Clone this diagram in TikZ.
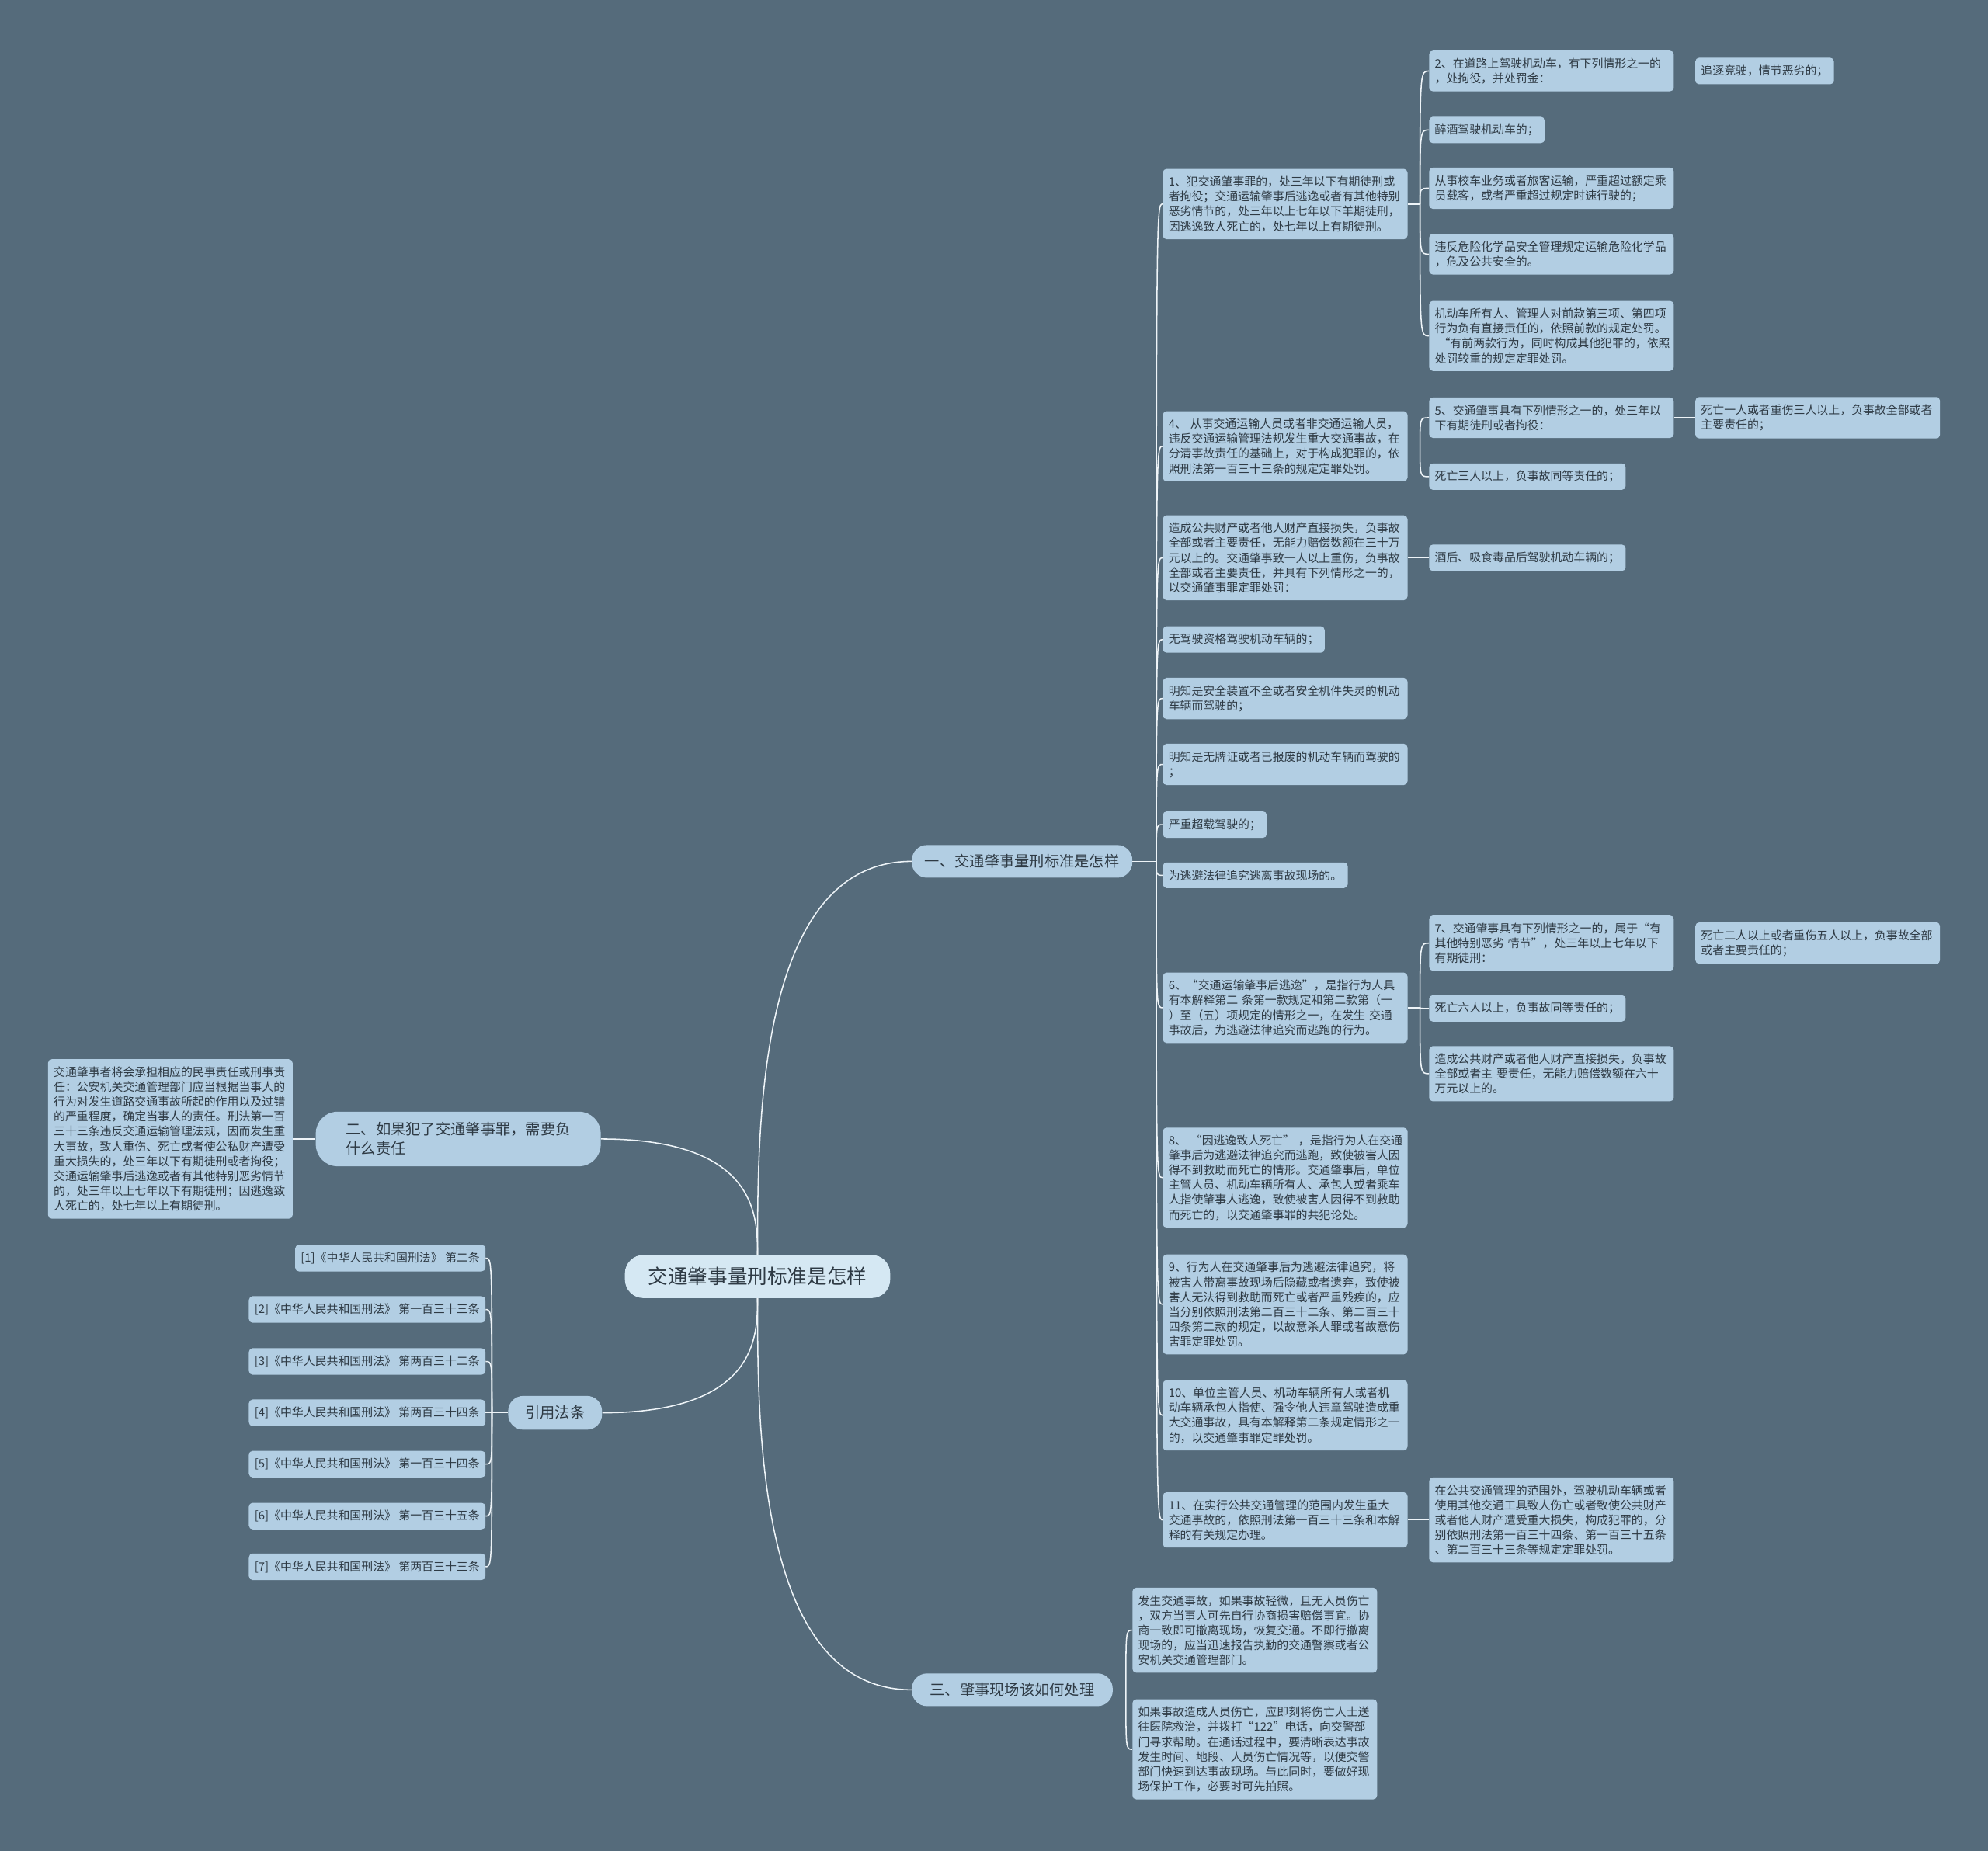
\documentclass[tikz,border=0pt]{standalone}
\usepackage{fontspec}
\setmainfont{Noto Sans CJK SC}
\usetikzlibrary{calc}
\setlength{\parindent}{0pt}

\definecolor{bgcol}{HTML}{556B7B}
\definecolor{boxcol}{HTML}{B2CEE3}
\definecolor{rootcol}{HTML}{D5E8F3}
\definecolor{inkcol}{HTML}{2E3A44}
\definecolor{linkcol}{HTML}{EEF4F8}

\tikzset{
  leaf/.style={fill=boxcol, text=inkcol, rounded corners=3.5pt, inner xsep=5.2pt, inner ysep=6.8pt,
    font=\fontsize{10.6}{13.6}\selectfont, align=left},
  leafw/.style={leaf, text width=213.7pt},
  topic/.style={fill=boxcol, text=inkcol, rounded corners=14pt, inner sep=0pt,
    font=\fontsize{13.7}{17.8}\selectfont, align=left},
  link/.style={draw=linkcol, line width=1.1pt},
  branch/.style={to path={.. controls ($(\tikztostart)!0.33!(\tikztostart|-\tikztotarget)$)
    and (\tikztostart|-\tikztotarget) .. (\tikztotarget)}},
  twig/.style={to path={.. controls (\tikztostart|-\tikztotarget) .. (\tikztotarget)}}
}

\begin{document}
\begin{tikzpicture}[x=0.40816mm, y=-0.40816mm]
    % canvas
        \fill[bgcol] (0,0) rectangle (1568,1460);
        \useasboundingbox (0,0) rectangle (1568,1460);
    % root and topics
        \node[topic, fill=rootcol, rounded corners=17pt, minimum width=243pt, minimum height=39.5pt,
            font=\fontsize{18.2}{22}\selectfont] (root) at (597.5,1007) {交通肇事量刑标准是怎样};
        \node[topic, anchor=west, minimum width=202pt, minimum height=30pt] (t1) at (719,679.5) {一、交通肇事量刑标准是怎样};
        \node[topic, anchor=east, minimum width=261pt, minimum height=50pt, rounded corners=20pt] (t2) at (474,898.5)
            {二、如果犯了交通肇事罪，需要负\\什么责任};
        \node[topic, anchor=west, minimum width=184pt, minimum height=30pt] (t3) at (719,1333) {三、肇事现场该如何处理};
        \node[topic, anchor=east, minimum width=86pt, minimum height=31pt] (t4) at (475,1114.5) {引用法条};
    % first topic, first column
        \node[leafw, anchor=west] (a1) at (917,161) {1、犯交通肇事罪的，处三年以下有期徒刑或\\者拘役；交通运输肇事后逃逸或者有其他特别\\恶劣情节的，处三年以上七年以下羊期徒刑，\\因逃逸致人死亡的，处七年以上有期徒刑。};
        \node[leafw, anchor=west] (a2) at (917,352) {4、 从事交通运输人员或者非交通运输人员，\\违反交通运输管理法规发生重大交通事故，在\\分清事故责任的基础上，对于构成犯罪的，依\\照刑法第一百三十三条的规定定罪处罚。};
        \node[leafw, anchor=west] (a3) at (917,440) {造成公共财产或者他人财产直接损失，负事故\\全部或者主要责任，无能力赔偿数额在三十万\\元以上的。交通肇事致一人以上重伤，负事故\\全部或者主要责任，并具有下列情形之一的，\\以交通肇事罪定罪处罚：};
        \node[leaf, anchor=west] (a4) at (917,504.5) {无驾驶资格驾驶机动车辆的；};
        \node[leafw, anchor=west] (a5) at (917,551) {明知是安全装置不全或者安全机件失灵的机动\\车辆而驾驶的；};
        \node[leafw, anchor=west] (a6) at (917,603) {明知是无牌证或者已报废的机动车辆而驾驶的\\；};
        \node[leaf, anchor=west] (a7) at (917,650.5) {严重超载驾驶的；};
        \node[leaf, anchor=west] (a8) at (917,690.5) {为逃避法律追究逃离事故现场的。};
        \node[leafw, anchor=west] (a9) at (917,795) {6、“交通运输肇事后逃逸”，是指行为人具\\有本解释第二~条第一款规定和第二款第（一\\）至（五）项规定的情形之一，在发生~交通\\事故后，为逃避法律追究而逃跑的行为。};
        \node[leafw, anchor=west] (a10) at (917,929) {8、~“因逃逸致人死亡”~，是指行为人在交通\\肇事后为逃避法律追究而逃跑，致使被害人因\\得不到救助而死亡的情形。交通肇事后，单位\\主管人员、机动车辆所有人、承包人或者乘车\\人指使肇事人逃逸，致使被害人因得不到救助\\而死亡的，以交通肇事罪的共犯论处。};
        \node[leafw, anchor=west] (a11) at (917,1029) {9、行为人在交通肇事后为逃避法律追究，将\\被害人带离事故现场后隐藏或者遗弃，致使被\\害人无法得到救助而死亡或者严重残疾的，应\\当分别依照刑法第二百三十二条、第二百三十\\四条第二款的规定，以故意杀人罪或者故意伤\\害罪定罪处罚。};
        \node[leafw, anchor=west] (a12) at (917,1116.5) {10、单位主管人员、机动车辆所有人或者机\\动车辆承包人指使、强令他人违章驾驶造成重\\大交通事故，具有本解释第二条规定情形之一\\的，以交通肇事罪定罪处罚。};
        \node[leafw, anchor=west] (a13) at (917,1199) {11、在实行公共交通管理的范围内发生重大\\交通事故的，依照刑法第一百三十三条和本解\\释的有关规定办理。};
    % first topic, second column
        \node[leafw, anchor=west] (b1) at (1127,56) {2、在道路上驾驶机动车，有下列情形之一的\\，处拘役，并处罚金：};
        \node[leaf, anchor=west] (b2) at (1127,102.5) {醉酒驾驶机动车的；};
        \node[leafw, anchor=west] (b3) at (1127,148.5) {从事校车业务或者旅客运输，严重超过额定乘\\员载客，或者严重超过规定时速行驶的；};
        \node[leafw, anchor=west] (b4) at (1127,200.5) {违反危险化学品安全管理规定运输危险化学品\\，危及公共安全的。};
        \node[leafw, anchor=west] (b5) at (1127,265) {机动车所有人、管理人对前款第三项、第四项\\行为负有直接责任的，依照前款的规定处罚。\\~“有前两款行为，同时构成其他犯罪的，依照\\处罚较重的规定定罪处罚。};
        \node[leafw, anchor=west] (b6) at (1127,329.5) {5、交通肇事具有下列情形之一的，处三年以\\下有期徒刑或者拘役：};
        \node[leaf, anchor=west] (b7) at (1127,376) {死亡三人以上，负事故同等责任的；};
        \node[leaf, anchor=west] (b8) at (1127,440) {酒后、吸食毒品后驾驶机动车辆的；};
        \node[leafw, anchor=west] (b9) at (1127,744) {7、交通肇事具有下列情形之一的，属于“有\\其他特别恶劣~情节”，处三年以上七年以下\\有期徒刑：};
        \node[leaf, anchor=west] (b10) at (1127,795.5) {死亡六人以上，负事故同等责任的；};
        \node[leafw, anchor=west] (b11) at (1127,847) {造成公共财产或者他人财产直接损失，负事故\\全部或者主~要责任，无能力赔偿数额在六十\\万元以上的。};
        \node[leafw, anchor=west] (b12) at (1127,1199) {在公共交通管理的范围外，驾驶机动车辆或者\\使用其他交通工具致人伤亡或者致使公共财产\\或者他人财产遭受重大损失，构成犯罪的，分\\别依照刑法第一百三十四条、第一百三十五条\\、第二百三十三条等规定定罪处罚。};
    % first topic, third column
        \node[leaf, anchor=west] (c1) at (1337,56) {追逐竞驶，情节恶劣的；};
        \node[leafw, anchor=west] (c2) at (1337,329.5) {死亡一人或者重伤三人以上，负事故全部或者\\主要责任的；};
        \node[leafw, anchor=west] (c3) at (1337,744) {死亡二人以上或者重伤五人以上，负事故全部\\或者主要责任的；};
    % third topic
        \node[leafw, anchor=west] (d1) at (893,1286) {发生交通事故，如果事故轻微，且无人员伤亡\\，双方当事人可先自行协商损害赔偿事宜。协\\商一致即可撤离现场，恢复交通。不即行撤离\\现场的，应当迅速报告执勤的交通警察或者公\\安机关交通管理部门。};
        \node[leafw, anchor=west] (d2) at (893,1380) {如果事故造成人员伤亡，应即刻将伤亡人士送\\往医院救治，并拨打“122”电话，向交警部\\门寻求帮助。在通话过程中，要清晰表达事故\\发生时间、地段、人员伤亡情况等，以便交警\\部门快速到达事故现场。与此同时，要做好现\\场保护工作，必要时可先拍照。};
    % second topic
        \node[leafw, anchor=east] (e1) at (231,898.5) {交通肇事者将会承担相应的民事责任或刑事责\\任：公安机关交通管理部门应当根据当事人的\\行为对发生道路交通事故所起的作用以及过错\\的严重程度，确定当事人的责任。刑法第一百\\三十三条违反交通运输管理法规，因而发生重\\大事故，致人重伤、死亡或者使公私财产遭受\\重大损失的，处三年以下有期徒刑或者拘役；\\交通运输肇事后逃逸或者有其他特别恶劣情节\\的，处三年以上七年以下有期徒刑；因逃逸致\\人死亡的，处七年以上有期徒刑。};
    % references
        \foreach \i/\y/\t in {1/992.5/第二条, 2/1033/第一百三十三条, 3/1074/第两百三十二条,
                              4/1114.5/第两百三十四条, 5/1155/第一百三十四条, 6/1196/第一百三十五条,
                              7/1236/第两百三十三条}{
            \node[leaf, anchor=east] (r\i) at (383,\y) {[\i]《中华人民共和国刑法》~\t};
        }
    % spines
        \coordinate (s1) at (912,679.5);
        \coordinate (s2) at (1120,161);
        \coordinate (s3) at (1120,352);
        \coordinate (s4) at (1120,795);
        \coordinate (s5) at (888,1333);
        \coordinate (s6) at (388,1114.5);
    % main branches
        \draw[link] (root.north) to[branch] (t1.west);
        \draw[link] (root.north) to[branch] (t2.east);
        \draw[link] (root.south) to[branch] (t3.west);
        \draw[link] (root.south) to[branch] (t4.east);
    % twigs
        \draw[link] (t1.east) -- (s1);
        \foreach \i in {1,...,13}{
            \draw[link] (s1) to[twig] (a\i.west);
        }
        \foreach \p/\s/\c in {a1/s2/b1, a1/s2/b2, a1/s2/b3, a1/s2/b4, a1/s2/b5, a2/s3/b6, a2/s3/b7,
                              a9/s4/b9, a9/s4/b10, a9/s4/b11, t3/s5/d1, t3/s5/d2}{
            \draw[link] (\p.east) -- (\s);
            \draw[link] (\s) to[twig] (\c.west);
        }
        \draw[link] (t4.west) -- (s6);
        \foreach \i in {1,...,7}{
            \draw[link] (s6) to[twig] (r\i.east);
        }
        \foreach \p/\c in {a3/b8, a13/b12, b1/c1, b6/c2, b9/c3}{
            \draw[link] (\p.east) -- (\c.west);
        }
        \draw[link] (t2.west) -- (e1.east);
\end{tikzpicture}
\end{document}
